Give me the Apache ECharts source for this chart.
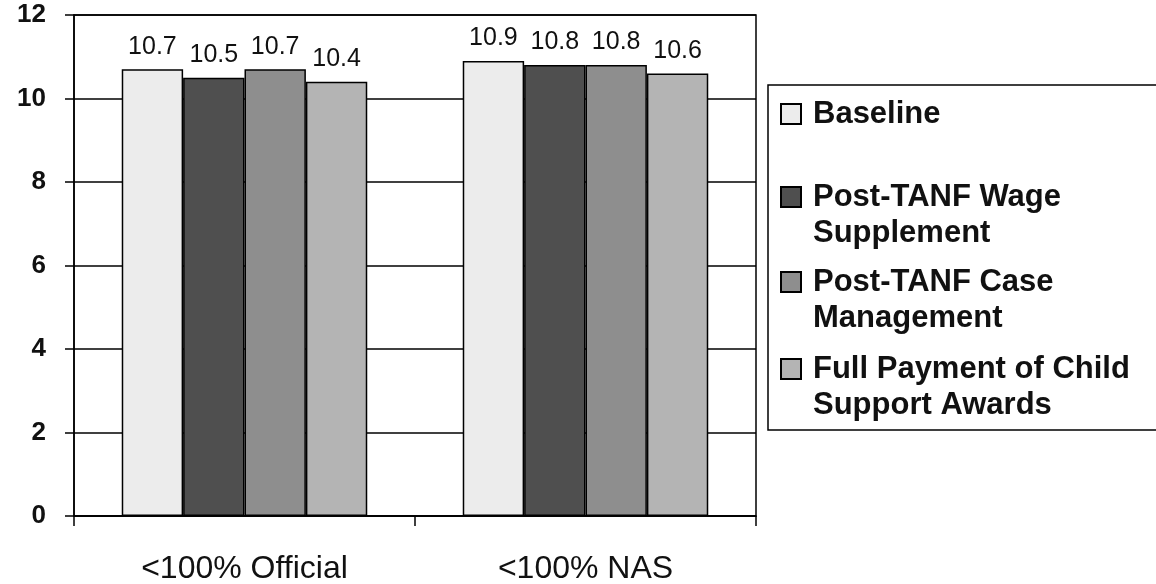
<!DOCTYPE html>
<html>
<head>
<meta charset="utf-8">
<script src="https://cdn.jsdelivr.net/npm/echarts@6/dist/echarts.min.js"></script>
<style>
  html, body { margin: 0; padding: 0; background: #fff; }
  #chart { width: 1156px; height: 584px; }
</style>
</head>
<body>
<div id="chart"></div>
<script>
const categories = ['<100% Official', '<100% NAS'];
const seriesNames = ['Baseline', 'Post-TANF Wage Supplement', 'Post-TANF Case Management', 'Full Payment of Child Support Awards'];
const legendLabels = ['Baseline', 'Post-TANF Wage\nSupplement', 'Post-TANF Case\nManagement', 'Full Payment of Child\nSupport Awards'];
const baseline = [10.7, 10.9];
const wageSupplement = [10.5, 10.8];
const caseManagement = [10.7, 10.8];
const childSupport = [10.4, 10.6];
const yTicks = [0, 2, 4, 6, 8, 10, 12];

const values = [baseline, wageSupplement, caseManagement, childSupport];
const colors = ['#ececec', '#4f4f4f', '#8e8e8e', '#b4b4b4'];
const legendTops = [96, 143, 228, 315];
const FONT = 'Arial, "Liberation Sans", Helvetica, sans-serif';

const chart = echarts.init(document.getElementById('chart'));

// multi-line entries get a blank first line so the icon sits beside the first text line
const legends = seriesNames.map((name, i) => ({
  data: [{ name, icon: 'rect' }],
  left: 780,
  top: legendTops[i],
  padding: 0,
  itemWidth: 20,
  itemHeight: 20,
  selectedMode: false,
  formatter: () => (i === 0 ? legendLabels[i] : ' \n' + legendLabels[i]),
  textStyle: {
    fontFamily: FONT,
    fontSize: 31,
    fontWeight: 'bold',
    color: '#111',
    lineHeight: 36,
    padding: [0, 0, 0, 7]
  }
}));

chart.setOption({
  backgroundColor: '#fff',
  animation: false,
  textStyle: { fontFamily: FONT },
  grid: {
    left: 74,
    right: 400,
    top: 15,
    bottom: 68,
    outerBoundsMode: 'none',
    show: true,
    borderColor: '#000',
    borderWidth: 1.5
  },
  legend: legends,
  graphic: [{
    type: 'rect',
    shape: { x: 768, y: 85, width: 400, height: 345 },
    style: { fill: 'none', stroke: '#000', lineWidth: 1.5 },
    silent: true
  }],
  xAxis: {
    type: 'category',
    data: categories,
    axisLine: { lineStyle: { color: '#000', width: 1.5 } },
    axisTick: { show: true, length: 10, lineStyle: { color: '#000', width: 1.5 } },
    axisLabel: { color: '#111', fontSize: 32, margin: 37, fontFamily: FONT }
  },
  yAxis: {
    type: 'value',
    min: yTicks[0],
    max: yTicks[yTicks.length - 1],
    interval: 2,
    axisLine: { show: true, lineStyle: { color: '#000', width: 1.5 } },
    axisTick: { show: true, length: 9, lineStyle: { color: '#000', width: 1.5 } },
    axisLabel: { color: '#111', fontSize: 26, fontWeight: 'bold', margin: 28, fontFamily: FONT },
    splitLine: { lineStyle: { color: '#000', width: 1.5 } }
  },
  series: seriesNames.map((name, i) => ({
    name,
    type: 'bar',
    data: values[i],
    barGap: '0%',
    barCategoryGap: '28%',
    itemStyle: { color: colors[i], borderColor: '#000', borderWidth: 1.5 },
    label: {
      show: true,
      position: 'top',
      distance: 10,
      fontSize: 25,
      color: '#111',
      fontFamily: FONT,
      formatter: (p) => p.value.toFixed(1)
    }
  }))
});
</script>
</body>
</html>
